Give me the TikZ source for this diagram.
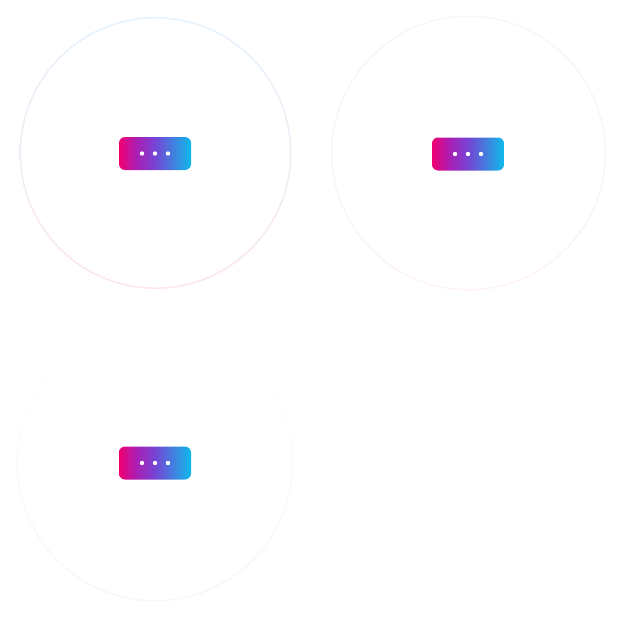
\documentclass[tikz,border=0pt]{standalone}
\definecolor{gpink}{RGB}{240,0,112}
\definecolor{gmidA}{RGB}{170,30,180}
\definecolor{gpurple}{RGB}{118,68,212}
\definecolor{gcyan}{RGB}{14,186,234}
\definecolor{ringAtop}{RGB}{230,242,252}
\definecolor{ringAbot}{RGB}{252,230,239}
\definecolor{ringBtop}{RGB}{242,247,253}
\definecolor{ringBbot}{RGB}{253,242,246}
\definecolor{ringCtop}{RGB}{255,255,255}
\definecolor{ringCbot}{RGB}{246,247,249}
\pgfdeclarehorizontalshading{dotsgrad}{100bp}{color(0bp)=(gpink); color(25bp)=(gpink);
  color(37bp)=(gmidA); color(50bp)=(gpurple); color(75bp)=(gcyan); color(100bp)=(gcyan)}
\tikzset{
  dotsbox/.style={rectangle, rounded corners=6pt, draw=none,
    minimum width=72pt, minimum height=33pt, inner sep=0pt, shading=dotsgrad},
  wdot/.style={circle, fill=white, draw=none, minimum size=4.4pt, inner sep=0pt}
}
\begin{document}
\begin{tikzpicture}[x=1pt,y=-1pt]
\useasboundingbox (0,0) rectangle (626,618);
% rings
\shade[top color=ringAtop, bottom color=ringAbot, even odd rule]
  (155.5,153) circle (136) (155.5,153) circle (134.4);
\shade[top color=ringBtop, bottom color=ringBbot, even odd rule]
  (468.5,153) circle (137.5) (468.5,153) circle (136);
\shade[top color=ringCtop, bottom color=ringCbot, even odd rule]
  (155,463) circle (138.5) (155,463) circle (137);
% boxes
\foreach \n/\x/\y in {a/155/153.5, b/468/154, c/155/463}{
  \node[dotsbox] (box\n) at (\x,\y) {};
  \node[wdot] (d\n1) at ([xshift=-13pt]box\n.center) {};
  \node[wdot] (d\n2) at (box\n.center) {};
  \node[wdot] (d\n3) at ([xshift=13pt]box\n.center) {};
}
\end{tikzpicture}
\end{document}
